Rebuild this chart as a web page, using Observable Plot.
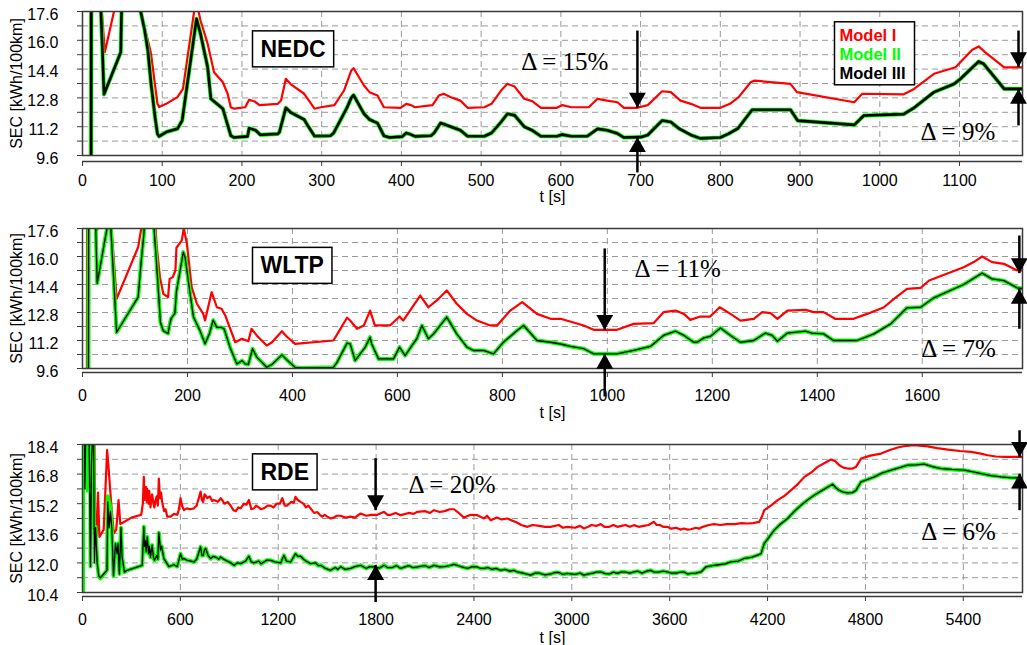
<!DOCTYPE html>
<html><head><meta charset="utf-8">
<script src="https://cdn.jsdelivr.net/npm/d3@7"></script>
<script src="https://cdn.jsdelivr.net/npm/@observablehq/plot@0.6"></script>
<style>
body{margin:0;background:#fff;width:1027px;height:645px;overflow:hidden;font-family:"Liberation Sans",Arial,sans-serif}
svg{display:block}
</style></head><body><div id="chart"></div>
<script>
// ---------------- DATA ----------------
const modelNames = ["Model I", "Model II", "Model III"];
const modelColors = ["#ff0000", "#00ff00", "#000000"];
const yLabel = "SEC [kWh/100km]";
const xLabel = "t [s]";

// NEDC
const nedcXDomain = [0, 1179];
const nedcXTicks = [0,100,200,300,400,500,600,700,800,900,1000,1100];
const nedcYDomain = [9.6, 17.6];
const nedcYGrid = [9.6,10.4,11.2,12.0,12.8,13.6,14.4,15.2,16.0,16.8,17.6];
const nedcYMajor = [9.6,11.2,12.8,14.4,16.0,17.6];
const nedcModel1 = [[0,0],[9,0],[10,30],[22,19],[28,15.34],[40,17.7],[45,20],[71,20],[73,17.6],[82,16.0],[86,15.25],[94,12.47],[96,12.3],[105,12.47],[119,12.84],[126,13.3],[140,17.6],[144,17.9],[148,17.1],[157,15.8],[165,14.23],[176,13.67],[182,13.03],[186,12.28],[190,12.2],[204,12.28],[209,12.7],[216,12.6],[222,12.4],[245,12.47],[249,12.65],[255,13.86],[261,13.57],[278,13.03],[284,12.65],[291,12.2],[299,12.28],[316,12.4],[328,13.21],[337,14.32],[340,14.45],[353,13.49],[360,13.12],[370,12.93],[378,12.28],[399,12.25],[406,12.47],[412,12.4],[417,12.28],[439,12.4],[447,12.93],[453,13.03],[462,12.84],[474,12.65],[483,12.25],[504,12.28],[513,12.47],[525,13.21],[533,13.58],[542,13.43],[554,12.75],[564,12.62],[575,12.25],[595,12.25],[602,12.4],[613,12.28],[635,12.28],[646,12.75],[658,12.65],[671,12.56],[679,12.25],[696,12.25],[709,12.4],[727,13.17],[738,13.12],[750,12.65],[763,12.47],[775,12.25],[800,12.25],[812,12.47],[823,12.84],[838,13.67],[843,13.76],[888,13.58],[896,13.12],[968,12.56],[978,13.03],[1030,13.0],[1043,13.3],[1068,14.14],[1095,14.5],[1116,15.47],[1124,15.66],[1132,15.34],[1156,14.5],[1181,14.5]];
const nedcModel2 = [[0,0],[10.5,0],[11.5,30],[22,19],[27,13.0],[48,15.34],[50,20],[71,20],[73,17.6],[78,16.54],[82,15.43],[86,13.58],[91,11.73],[94,10.8],[96,10.66],[105,10.9],[119,11.08],[125,11.54],[143,17.19],[148,16.36],[157,14.5],[161,12.75],[176,12.2],[186,10.7],[190,10.6],[207,10.66],[209,11.12],[217,11.0],[223,10.75],[245,10.8],[247,10.9],[255,12.25],[261,12.0],[278,11.6],[282,11.3],[291,10.68],[299,10.68],[311,10.7],[315,10.85],[332,12.28],[337,12.8],[340,12.95],[353,11.92],[360,11.6],[370,11.4],[378,10.7],[385,10.6],[401,10.65],[406,10.85],[410,10.8],[417,10.66],[437,10.7],[441,10.85],[449,11.4],[453,11.35],[462,11.2],[474,11.0],[483,10.67],[504,10.67],[513,10.85],[525,11.46],[533,11.92],[542,11.83],[554,11.2],[564,11.0],[575,10.67],[595,10.67],[602,10.76],[613,10.67],[633,10.67],[646,11.08],[658,11.0],[671,10.82],[679,10.6],[700,10.62],[709,10.74],[727,11.54],[738,11.46],[748,11.1],[763,10.74],[775,10.55],[800,10.6],[810,10.8],[822,11.1],[840,12.14],[888,12.14],[897,11.54],[968,11.3],[980,11.82],[1030,11.9],[1043,12.25],[1068,13.12],[1093,13.57],[1101,13.85],[1124,14.82],[1130,14.7],[1156,13.3],[1181,13.3]];
const nedcModel3 = [[0,0],[10.5,0],[11.5,30],[22,19],[27,13.0],[48,15.34],[50,20],[71,20],[73,17.6],[78,16.54],[82,15.43],[86,13.58],[91,11.73],[94,10.8],[96,10.66],[105,10.9],[119,11.08],[125,11.54],[143,17.19],[148,16.36],[157,14.5],[161,12.75],[176,12.2],[186,10.7],[190,10.6],[207,10.66],[209,11.12],[217,11.0],[223,10.75],[245,10.8],[247,10.9],[255,12.25],[261,12.0],[278,11.6],[282,11.3],[291,10.68],[299,10.68],[311,10.7],[315,10.85],[332,12.28],[337,12.8],[340,12.95],[353,11.92],[360,11.6],[370,11.4],[378,10.7],[385,10.6],[401,10.65],[406,10.85],[410,10.8],[417,10.66],[437,10.7],[441,10.85],[449,11.4],[453,11.35],[462,11.2],[474,11.0],[483,10.67],[504,10.67],[513,10.85],[525,11.46],[533,11.92],[542,11.83],[554,11.2],[564,11.0],[575,10.67],[595,10.67],[602,10.76],[613,10.67],[633,10.67],[646,11.08],[658,11.0],[671,10.82],[679,10.6],[700,10.62],[709,10.74],[727,11.54],[738,11.46],[748,11.1],[763,10.74],[775,10.55],[800,10.6],[810,10.8],[822,11.1],[840,12.14],[888,12.14],[897,11.54],[968,11.3],[980,11.82],[1030,11.9],[1043,12.25],[1068,13.12],[1093,13.57],[1101,13.85],[1124,14.82],[1130,14.7],[1156,13.3],[1181,13.3]];
const nedcArrowsDown = [{t:696, from:16.54, to:12.25}, {t:1174, from:16.54, to:14.51}];
const nedcArrowsUp = [{t:696, from:8.66, to:10.62}, {t:1174, from:11.27, to:13.31}];
const nedcDeltas = [{t:605, v:14.77, label:"Δ = 15%"}, {t:1098, v:10.88, label:"Δ = 9%"}];

// WLTP
const wltpXDomain = [0, 1791];
const wltpXTicks = [0,200,400,600,800,1000,1200,1400,1600];
const wltpYDomain = [9.6, 17.6];
const wltpYGrid = [9.6,10.4,11.2,12.0,12.8,13.6,14.4,15.2,16.0,16.8,17.6];
const wltpYMajor = [9.6,11.2,12.8,14.4,16.0,17.6];
const wltpModel1 = [[0,0],[8,0],[9,25],[24,19],[28,17.5],[33,19],[52,19],[65,13.58],[106,16.53],[112,17.6],[116,19],[137,19],[141,16.72],[147.5,14.82],[154,13.87],[163,13.68],[166,14.72],[172,14.82],[177,15.2],[179,16.5],[189,16.91],[193,17.6],[199,16.72],[208,14.25],[218,13.3],[230,12.72],[233.5,12.34],[246,13.96],[256,13.1],[265,13.01],[272,12.63],[291,11.1],[304,11.3],[316,11.16],[322,11.87],[332,11.49],[351,10.91],[361,11.1],[380,11.73],[389,11.43],[405,11.01],[478,11.2],[487.7,11.68],[504,12.5],[510,12.34],[523,11.87],[536,12.06],[548,12.91],[557,12.06],[586,12.06],[604,12.57],[611,12.34],[624,12.91],[643.5,13.77],[659,13.1],[675,13.49],[694,14.06],[713,13.3],[732.5,12.72],[751.6,12.34],[777,12.06],[790,12.06],[815,12.91],[837.7,13.39],[866,12.72],[891.7,12.44],[911,12.44],[955,12.06],[974,11.81],[1018.5,11.81],[1050,12.15],[1088,12.19],[1107,12.82],[1130,12.91],[1146,12.72],[1158,12.38],[1177,12.57],[1196,12.57],[1214,13.1],[1234.6,12.72],[1253.6,12.34],[1279,12.44],[1295,12.82],[1311,12.76],[1324,12.44],[1343,12.91],[1377.5,12.95],[1393,12.82],[1412,12.82],[1434,12.44],[1469,12.44],[1495,12.72],[1527,13.1],[1546,13.58],[1571,14.15],[1597,14.21],[1613,14.63],[1679,15.39],[1698,15.68],[1714,16.0],[1733,15.68],[1755.6,15.58],[1781,15.2],[1795,15.2]];
const wltpModel2 = [[0,0],[11,0],[12,25],[24,19],[28,14.47],[46,17.49],[50,18.2],[53,18.2],[65,11.67],[106,13.68],[112,15.77],[117,17.3],[120,19],[133,19],[141,15.66],[148.5,12.23],[154,11.75],[163,11.6],[166,12.1],[169,12.46],[176,12.75],[179,14.0],[186,15.2],[192,16.25],[195.5,15.95],[205,13.87],[211.5,12.54],[224,11.75],[233.5,11.01],[242,11.6],[249,12.36],[256,11.95],[265,11.95],[270,11.85],[281,10.82],[294,9.86],[304,10.05],[310,9.86],[316,9.83],[324,10.73],[332,10.25],[351,9.67],[361,9.83],[380,10.38],[389,10.1],[405,9.67],[415,9.63],[478,9.67],[485,9.95],[504,11.05],[510,11.01],[519.5,10.05],[529,10.44],[538.7,10.82],[548,11.39],[551,11.0],[564,10.15],[592.6,10.15],[604,10.82],[614.7,10.34],[627.6,10.91],[637,11.3],[646.7,12.06],[659,11.3],[669,11.58],[694,12.54],[713,11.58],[732.5,10.82],[745,10.63],[764,10.63],[783,10.44],[802,11.1],[828,11.77],[840.5,12.06],[866,11.2],[891.7,11.1],[910.8,11.0],[930,10.86],[955,10.73],[974,10.44],[1018.5,10.44],[1050,10.63],[1082,10.86],[1107,11.49],[1130,11.73],[1146,11.49],[1164.6,11.1],[1171,11.1],[1184,11.35],[1196,11.43],[1215.5,11.92],[1234.6,11.49],[1253.6,11.1],[1279,11.2],[1301,11.62],[1314,11.49],[1324,11.16],[1342.6,11.62],[1377.5,11.73],[1390,11.62],[1412,11.58],[1431,11.2],[1476,11.2],[1508,11.58],[1540,12.15],[1571,13.07],[1597,13.1],[1622,13.64],[1679,14.4],[1714,15.05],[1733,14.72],[1755.6,14.62],[1781,14.21],[1795,14.15]];
const wltpModel3 = [[0,0],[11,0],[12,25],[24,19],[28,14.47],[46,17.49],[50,18.2],[53,18.2],[65,11.67],[106,13.68],[112,15.77],[117,17.3],[120,19],[133,19],[141,15.66],[148.5,12.23],[154,11.75],[163,11.6],[166,12.1],[169,12.46],[176,12.75],[179,14.0],[186,15.2],[192,16.25],[195.5,15.95],[205,13.87],[211.5,12.54],[224,11.75],[233.5,11.01],[242,11.6],[249,12.36],[256,11.95],[265,11.95],[270,11.85],[281,10.82],[294,9.86],[304,10.05],[310,9.86],[316,9.83],[324,10.73],[332,10.25],[351,9.67],[361,9.83],[380,10.38],[389,10.1],[405,9.67],[415,9.63],[478,9.67],[485,9.95],[504,11.05],[510,11.01],[519.5,10.05],[529,10.44],[538.7,10.82],[548,11.39],[551,11.0],[564,10.15],[592.6,10.15],[604,10.82],[614.7,10.34],[627.6,10.91],[637,11.3],[646.7,12.06],[659,11.3],[669,11.58],[694,12.54],[713,11.58],[732.5,10.82],[745,10.63],[764,10.63],[783,10.44],[802,11.1],[828,11.77],[840.5,12.06],[866,11.2],[891.7,11.1],[910.8,11.0],[930,10.86],[955,10.73],[974,10.44],[1018.5,10.44],[1050,10.63],[1082,10.86],[1107,11.49],[1130,11.73],[1146,11.49],[1164.6,11.1],[1171,11.1],[1184,11.35],[1196,11.43],[1215.5,11.92],[1234.6,11.49],[1253.6,11.1],[1279,11.2],[1301,11.62],[1314,11.49],[1324,11.16],[1342.6,11.62],[1377.5,11.73],[1390,11.62],[1412,11.58],[1431,11.2],[1476,11.2],[1508,11.58],[1540,12.15],[1571,13.07],[1597,13.1],[1622,13.64],[1679,14.4],[1714,15.05],[1733,14.72],[1755.6,14.62],[1781,14.21],[1795,14.15]];
const wltpArrowsDown = [{t:995, from:16.46, to:11.81}, {t:1785, from:17.2, to:15.05}];
const wltpArrowsUp = [{t:995, from:8.0, to:10.44}, {t:1785, from:11.87, to:14.15}];
const wltpDeltas = [{t:1134, v:15.31, label:"Δ = 11%"}, {t:1669, v:10.74, label:"Δ = 7%"}];

// RDE
const rdeXDomain = [0, 5763];
const rdeXTicks = [0,600,1200,1800,2400,3000,3600,4200,4800,5400];
const rdeYDomain = [10.4, 18.4];
const rdeYGrid = [10.4,11.2,12.0,12.8,13.6,14.4,15.2,16.0,16.8,17.6,18.4];
const rdeYMajor = [10.4,12.0,13.6,15.2,16.8,18.4];
const rdeModel1 = [[0,25],[68,25],[75,16.5],[80,13.5],[88,13.4],[95,15.8],[104,13.4],[130,13.8],[151,18.1],[161,17.0],[176,15.2],[192,13.6],[207,13.8],[221,15.4],[232,14.1],[252,14.2],[300,14.45],[360,14.6],[370,15.2],[376,16.65],[381,15.4],[385,15.9],[390,16.1],[394,15.3],[397,16.0],[405,15.2],[409,15.9],[412,15.6],[417,15.0],[422,15.5],[427,15.7],[435,15.2],[441,15.0],[448,15.4],[455,15.6],[462,15.1],[468,16.56],[475,15.5],[482,15.8],[488,15.3],[500,14.8],[509,14.9],[520,14.5],[540,14.5],[560,14.65],[581,14.6],[590,14.85],[601,15.5],[610,15.1],[622,14.85],[640,14.95],[660,14.9],[683,14.95],[700,15.1],[724,15.85],[732,15.4],[740,15.3],[748,15.7],[755,15.65],[765,15.5],[780,15.6],[795,15.35],[806,15.4],[830,15.3],[847,15.5],[860,15.35],[870,15.2],[890,15.3],[908,15.1],[925,14.85],[940,14.8],[955,15.0],[969,14.95],[990,15.2],[1005,15.15],[1020,15.4],[1035,14.9],[1051,14.95],[1065,15.1],[1080,15.0],[1095,14.9],[1112,14.95],[1135,15.1],[1153,15.1],[1170,15.0],[1190,15.2],[1210,15.2],[1225,15.5],[1240,15.1],[1255,15.1],[1280,15.3],[1295,15.25],[1306,15.57],[1320,15.4],[1337,15.3],[1355,15.2],[1370,15.0],[1385,15.1],[1398,14.95],[1420,14.7],[1439,14.75],[1455,14.6],[1470,14.5],[1485,14.6],[1501,14.5],[1520,14.4],[1540,14.45],[1560,14.55],[1583,14.55],[1610,14.45],[1644,14.5],[1670,14.45],[1705,14.67],[1740,14.55],[1770,14.6],[1808,14.6],[1849,14.76],[1870,14.6],[1890,14.6],[1920,14.7],[1951,14.58],[2000,14.7],[2030,14.65],[2053,14.76],[2100,14.8],[2130,14.7],[2155,14.85],[2190,14.75],[2220,14.8],[2250,14.9],[2278,14.9],[2300,14.75],[2339,14.45],[2380,14.6],[2421,14.58],[2440,14.5],[2460,14.4],[2480,14.55],[2503,14.3],[2540,14.45],[2570,14.35],[2605,14.4],[2630,14.3],[2660,14.2],[2690,14.05],[2728,13.95],[2760,14.05],[2800,14.0],[2835,13.95],[2870,13.95],[2920,14.05],[2945,13.9],[2972,13.95],[3020,13.9],[3050,14.0],[3074,13.86],[3100,13.95],[3120,14.05],[3150,14.0],[3177,14.1],[3200,13.95],[3230,13.95],[3255,14.05],[3279,13.95],[3305,14.0],[3330,14.05],[3355,13.95],[3381,14.04],[3410,13.95],[3440,14.0],[3470,14.05],[3504,14.22],[3520,14.05],[3540,14.05],[3560,13.95],[3585,13.95],[3610,13.85],[3640,13.9],[3665,13.8],[3688,13.86],[3710,13.8],[3730,13.82],[3760,13.9],[3780,13.85],[3802,13.95],[3840,14.05],[3873,14.1],[3910,14.05],[3950,14.1],[4000,14.1],[4040,14.15],[4077,14.13],[4110,14.15],[4149,14.22],[4165,14.5],[4180,14.85],[4220,15.1],[4262,15.39],[4300,15.6],[4344,15.93],[4390,16.3],[4426,16.65],[4470,16.9],[4507,17.19],[4550,17.4],[4589,17.59],[4615,17.5],[4640,17.28],[4665,17.15],[4691,17.1],[4720,17.1],[4742,17.19],[4773,17.64],[4830,17.8],[4896,17.91],[4950,18.1],[4998,18.24],[5050,18.33],[5100,18.36],[5182,18.3],[5240,18.2],[5305,18.12],[5380,18.05],[5448,18.0],[5500,17.92],[5550,17.82],[5600,17.75],[5652,17.73],[5765,17.73]];
const rdeModel2 = [[0,8],[3,8],[5,25],[28,25],[33,15.9],[40,19],[47,19],[49,11.8],[55,17.4],[60,19],[66,19],[70,13.9],[80,13.95],[90,12.0],[100,11.25],[110,11.16],[150,11.6],[155,15.6],[171,15.0],[180,13.8],[190,11.3],[202,13.05],[212,12.5],[218,13.05],[226,11.4],[236,13.9],[243,12.3],[257,11.5],[274,11.6],[366,11.87],[376,13.95],[380,12.9],[385,13.2],[390,12.6],[397,13.4],[405,12.5],[410,12.9],[417,12.3],[422,12.7],[427,12.96],[435,12.3],[441,12.14],[455,12.4],[462,12.2],[468,13.63],[478,12.7],[485,12.9],[499,12.23],[530,11.8],[560,11.9],[581,11.8],[601,12.5],[612,12.2],[622,12.23],[642,12.14],[665,12.1],[683,12.05],[700,12.2],[724,12.87],[732,12.4],[740,12.4],[748,12.7],[755,12.78],[770,12.4],[786,12.23],[800,12.35],[820,12.3],[835,12.2],[847,12.32],[865,12.2],[888,12.1],[910,12.0],[929,11.87],[950,12.0],[969,11.96],[1000,12.1],[1020,12.36],[1035,12.05],[1051,12.0],[1080,12.1],[1095,11.95],[1112,12.05],[1130,12.15],[1153,12.14],[1180,12.05],[1215,12.0],[1235,12.41],[1250,12.1],[1276,12.05],[1306,12.5],[1320,12.35],[1337,12.36],[1355,12.2],[1370,12.1],[1398,11.96],[1430,12.0],[1445,11.85],[1460,11.87],[1490,11.7],[1521,11.6],[1550,11.75],[1565,11.65],[1583,11.79],[1610,11.65],[1644,11.7],[1670,11.8],[1705,11.87],[1740,11.7],[1760,11.8],[1787,11.78],[1820,11.72],[1849,11.87],[1870,11.75],[1900,11.75],[1925,11.85],[1951,11.7],[2000,11.85],[2025,11.75],[2053,11.78],[2100,11.85],[2125,11.75],[2155,11.87],[2190,11.78],[2220,11.8],[2250,11.85],[2278,11.92],[2320,11.8],[2360,11.7],[2390,11.8],[2420,11.78],[2440,11.7],[2462,11.7],[2485,11.75],[2510,11.65],[2535,11.7],[2564,11.6],[2590,11.65],[2620,11.55],[2645,11.6],[2666,11.51],[2700,11.45],[2748,11.34],[2775,11.45],[2800,11.45],[2835,11.35],[2870,11.4],[2895,11.48],[2920,11.48],[2945,11.38],[2972,11.43],[3000,11.4],[3020,11.38],[3050,11.45],[3074,11.34],[3100,11.4],[3130,11.45],[3150,11.5],[3177,11.51],[3205,11.42],[3230,11.4],[3255,11.5],[3279,11.43],[3305,11.52],[3330,11.5],[3355,11.45],[3381,11.51],[3405,11.55],[3430,11.45],[3460,11.55],[3483,11.6],[3505,11.5],[3530,11.5],[3560,11.55],[3585,11.51],[3610,11.45],[3640,11.45],[3665,11.5],[3688,11.51],[3710,11.4],[3730,11.43],[3760,11.45],[3792,11.51],[3822,11.78],[3860,11.85],[3900,11.9],[3940,11.95],[3975,12.06],[4020,12.1],[4060,12.25],[4100,12.3],[4139,12.42],[4160,12.5],[4180,13.05],[4210,13.4],[4241,13.77],[4280,14.1],[4323,14.4],[4360,14.75],[4405,15.12],[4445,15.4],[4486,15.66],[4540,15.95],[4599,16.25],[4620,16.05],[4640,15.92],[4665,15.82],[4691,15.78],[4720,15.8],[4742,15.92],[4773,16.38],[4810,16.5],[4855,16.65],[4900,16.85],[4958,17.01],[5010,17.15],[5059,17.28],[5110,17.3],[5161,17.34],[5210,17.2],[5264,17.1],[5330,17.05],[5407,17.01],[5460,16.92],[5509,16.83],[5570,16.72],[5632,16.65],[5700,16.6],[5765,16.6]];
const rdeModel3 = [[0,25],[10,25],[15,16.0],[20,19],[40,19],[49,11.8],[55,17.4],[62,19],[68,19],[72,12.0],[80,13.9],[90,12.0],[100,11.3],[110,11.2],[150,11.6],[155,15.3],[163,13.9],[171,14.8],[180,13.8],[190,11.3],[202,13.05],[212,12.5],[218,13.05],[226,11.4],[236,13.9],[243,12.3],[257,11.5],[274,11.6],[366,11.87],[376,13.95],[380,12.9],[385,13.2],[390,12.6],[397,13.4],[405,12.5],[410,12.9],[417,12.3],[422,12.7],[427,12.96],[435,12.3],[441,12.14],[455,12.4],[462,12.2],[468,13.63],[478,12.7],[485,12.9],[499,12.23],[530,11.8],[560,11.9],[581,11.8],[601,12.5],[612,12.2],[622,12.23],[642,12.14],[665,12.1],[683,12.05],[700,12.2],[724,12.87],[732,12.4],[740,12.4],[748,12.7],[755,12.78],[770,12.4],[786,12.23],[800,12.35],[820,12.3],[835,12.2],[847,12.32],[865,12.2],[888,12.1],[910,12.0],[929,11.87],[950,12.0],[969,11.96],[1000,12.1],[1020,12.36],[1035,12.05],[1051,12.0],[1080,12.1],[1095,11.95],[1112,12.05],[1130,12.15],[1153,12.14],[1180,12.05],[1215,12.0],[1235,12.41],[1250,12.1],[1276,12.05],[1306,12.5],[1320,12.35],[1337,12.36],[1355,12.2],[1370,12.1],[1398,11.96],[1430,12.0],[1445,11.85],[1460,11.87],[1490,11.7],[1521,11.6],[1550,11.75],[1565,11.65],[1583,11.79],[1610,11.65],[1644,11.7],[1670,11.8],[1705,11.87],[1740,11.7],[1760,11.8],[1787,11.78],[1820,11.72],[1849,11.87],[1870,11.75],[1900,11.75],[1925,11.85],[1951,11.7],[2000,11.85],[2025,11.75],[2053,11.78],[2100,11.85],[2125,11.75],[2155,11.87],[2190,11.78],[2220,11.8],[2250,11.85],[2278,11.92],[2320,11.8],[2360,11.7],[2390,11.8],[2420,11.78],[2440,11.7],[2462,11.7],[2485,11.75],[2510,11.65],[2535,11.7],[2564,11.6],[2590,11.65],[2620,11.55],[2645,11.6],[2666,11.51],[2700,11.45],[2748,11.34],[2775,11.45],[2800,11.45],[2835,11.35],[2870,11.4],[2895,11.48],[2920,11.48],[2945,11.38],[2972,11.43],[3000,11.4],[3020,11.38],[3050,11.45],[3074,11.34],[3100,11.4],[3130,11.45],[3150,11.5],[3177,11.51],[3205,11.42],[3230,11.4],[3255,11.5],[3279,11.43],[3305,11.52],[3330,11.5],[3355,11.45],[3381,11.51],[3405,11.55],[3430,11.45],[3460,11.55],[3483,11.6],[3505,11.5],[3530,11.5],[3560,11.55],[3585,11.51],[3610,11.45],[3640,11.45],[3665,11.5],[3688,11.51],[3710,11.4],[3730,11.43],[3760,11.45],[3792,11.51],[3822,11.78],[3860,11.85],[3900,11.9],[3940,11.95],[3975,12.06],[4020,12.1],[4060,12.25],[4100,12.3],[4139,12.42],[4160,12.5],[4180,13.05],[4210,13.4],[4241,13.77],[4280,14.1],[4323,14.4],[4360,14.75],[4405,15.12],[4445,15.4],[4486,15.66],[4540,15.95],[4599,16.25],[4620,16.05],[4640,15.92],[4665,15.82],[4691,15.78],[4720,15.8],[4742,15.92],[4773,16.38],[4810,16.5],[4855,16.65],[4900,16.85],[4958,17.01],[5010,17.15],[5059,17.28],[5110,17.3],[5161,17.34],[5210,17.2],[5264,17.1],[5330,17.05],[5407,17.01],[5460,16.92],[5509,16.83],[5570,16.72],[5632,16.65],[5700,16.6],[5765,16.6]];
const rdeArrowsDown = [{t:1797, from:17.66, to:14.85}, {t:5745, from:19.17, to:17.73}];
const rdeArrowsUp = [{t:1797, from:9.88, to:11.88}, {t:5745, from:14.85, to:16.83}];
const rdeDeltas = [{t:2265, v:16.2, label:"Δ = 20%"}, {t:5371, v:13.66, label:"Δ = 6%"}];

// ---------------- DRAWING ----------------
const panels = [
  {name:"NEDC", m:[nedcModel1,nedcModel2,nedcModel3], xDomain:nedcXDomain, xTicks:nedcXTicks, yDomain:nedcYDomain, yGrid:nedcYGrid, yMajor:nedcYMajor, down:nedcArrowsDown, up:nedcArrowsUp, deltas:nedcDeltas,
   height:205, marginTop:11, marginBottom:50, axisDy:6, tickPad:8, xLabelDy:41, boxDy:38, greenW:4.2, blackW:2.6, legend:true},
  {name:"WLTP", m:[wltpModel1,wltpModel2,wltpModel3], xDomain:wltpXDomain, xTicks:wltpXTicks, yDomain:wltpYDomain, yGrid:wltpYGrid, yMajor:wltpYMajor, down:wltpArrowsDown, up:wltpArrowsUp, deltas:wltpDeltas,
   height:215, marginTop:23, marginBottom:52, axisDy:4, tickPad:12, xLabelDy:44, boxDy:37.5, greenW:4, blackW:1.3, legend:false},
  {name:"RDE", m:[rdeModel1,rdeModel2,rdeModel3], xDomain:rdeXDomain, xTicks:rdeXTicks, yDomain:rdeYDomain, yGrid:rdeYGrid, yMajor:rdeYMajor, down:rdeArrowsDown, up:rdeArrowsUp, deltas:rdeDeltas,
   height:225, marginTop:24, marginBottom:53, axisDy:4, tickPad:12, xLabelDy:45, boxDy:28, greenW:4, blackW:1.3, legend:false}
];

const upHead = {draw(ctx, size){ const r = Math.sqrt(size/Math.PI), h = 2.3*r, w = 1.3*r; ctx.moveTo(0,0); ctx.lineTo(w,h); ctx.lineTo(-w,h); ctx.closePath(); }};
const downHead = {draw(ctx, size){ const r = Math.sqrt(size/Math.PI), h = 2.3*r, w = 1.3*r; ctx.moveTo(0,0); ctx.lineTo(w,-h); ctx.lineTo(-w,-h); ctx.closePath(); }};

const container = document.getElementById("chart");
const frameColor = "#3a3a3a";
const gridColor = "#9a9a9a";
const sans = "'Liberation Sans', Arial, sans-serif";
const serif = "'Liberation Serif', 'Times New Roman', serif";

function addBox(svg, elems, pad) {
  const sr = svg.getBoundingClientRect();
  let x0 = Infinity, y0 = Infinity, x1 = -Infinity, y1 = -Infinity;
  for (const e of elems) {
    const r = e.getBoundingClientRect();
    x0 = Math.min(x0, r.left); y0 = Math.min(y0, r.top); x1 = Math.max(x1, r.right); y1 = Math.max(y1, r.bottom);
  }
  const rect = document.createElementNS("http://www.w3.org/2000/svg", "rect");
  rect.setAttribute("x", x0 - sr.left - pad[3]);
  rect.setAttribute("y", y0 - sr.top - pad[0]);
  rect.setAttribute("width", x1 - x0 + pad[1] + pad[3]);
  rect.setAttribute("height", y1 - y0 + pad[0] + pad[2]);
  rect.setAttribute("fill", "white");
  rect.setAttribute("stroke", "black");
  rect.setAttribute("stroke-width", 1.5);
  let g = elems[0];
  while (g.parentNode !== svg) g = g.parentNode;
  svg.insertBefore(rect, g);
}

for (const p of panels) {
  const xy = {x: d => d[0], y: d => d[1]};
  const marks = [
    Plot.gridY(p.yGrid, {stroke: gridColor, strokeOpacity: 1, strokeWidth: 1, strokeDasharray: "6,4"}),
    Plot.gridX(p.xTicks, {stroke: gridColor, strokeOpacity: 1, strokeWidth: 1, strokeDasharray: "6,4"}),
    Plot.line(p.m[0], {...xy, stroke: modelColors[0], strokeWidth: 2.2, clip: true, strokeLinejoin: "round"}),
    Plot.line(p.m[1], {...xy, stroke: modelColors[1], strokeWidth: p.greenW, clip: true, strokeLinejoin: "round"}),
    Plot.line(p.m[2], {...xy, stroke: modelColors[2], strokeWidth: p.blackW, clip: true, strokeLinejoin: "round"}),
    Plot.frame({stroke: frameColor, strokeWidth: 1.5}),
    Plot.ruleY([p.yDomain[0]], {dy: p.axisDy, stroke: frameColor, strokeWidth: 1.5}),
    Plot.axisX({ticks: p.xTicks, tickFormat: d => String(d), tickSize: 5, tickPadding: p.tickPad, dy: p.axisDy, fontSize: 16, stroke: frameColor, fill: "black", label: null}),
    Plot.axisY({ticks: p.yGrid, tickFormat: () => "", tickSize: 5, stroke: frameColor, label: null}),
    Plot.axisY({ticks: p.yMajor, tickFormat: d => d.toFixed(1), tickSize: 0, tickPadding: 24, dy: 3, fontSize: 16, fill: "black", label: null}),
    Plot.text([yLabel], {frameAnchor: "left", text: d => d, rotate: -90, dx: -66, textAnchor: "middle", lineAnchor: "middle", fontSize: 16, fill: "black"}),
    Plot.text([xLabel], {frameAnchor: "bottom", text: d => d, dy: p.xLabelDy, textAnchor: "middle", lineAnchor: "middle", fontSize: 16, fill: "black"}),
    Plot.text(p.deltas, {x: "t", y: "v", text: "label", fontFamily: serif, fontSize: 25, fill: "black"}),
    Plot.text([p.name], {frameAnchor: "top-left", text: d => d, dx: 178, dy: p.boxDy, textAnchor: "start", lineAnchor: "middle", fontSize: 23, fontWeight: "bold", fill: "black"}),
    Plot.link(p.down, {x1: "t", x2: "t", y1: "from", y2: "to", stroke: "black", strokeWidth: 2.5}),
    Plot.link(p.up, {x1: "t", x2: "t", y1: "from", y2: "to", stroke: "black", strokeWidth: 2.5}),
    Plot.dot(p.down, {x: "t", y: "to", symbol: downHead, r: 6.5, fill: "black", stroke: "none"}),
    Plot.dot(p.up, {x: "t", y: "to", symbol: upHead, r: 6.5, fill: "black", stroke: "none"})
  ];
  if (p.legend) {
    modelNames.forEach((name, i) => {
      marks.push(Plot.text([name], {frameAnchor: "top-left", text: d => d, dx: 757, dy: 24 + i * 19, textAnchor: "start", lineAnchor: "middle", fontSize: 16.5, fontWeight: "bold", fill: modelColors[i]}));
    });
  }
  const svg = Plot.plot({
    width: 1027, height: p.height,
    marginLeft: 82, marginRight: 5, marginTop: p.marginTop, marginBottom: p.marginBottom,
    style: {fontFamily: sans, fontSize: "16px", background: "white", color: "black", overflow: "visible"},
    x: {domain: p.xDomain, label: null},
    y: {domain: p.yDomain, label: null},
    marks
  });
  container.appendChild(svg);
  const texts = Array.from(svg.querySelectorAll("text"));
  const nameEl = texts.filter(t => t.textContent === p.name);
  if (nameEl.length) addBox(svg, nameEl, [5, 8, 5, 8]);
  if (p.legend) {
    const legEls = texts.filter(t => modelNames.includes(t.textContent));
    if (legEls.length) addBox(svg, legEls, [4, 9, 3, 5]);
  }
}
</script></body></html>
